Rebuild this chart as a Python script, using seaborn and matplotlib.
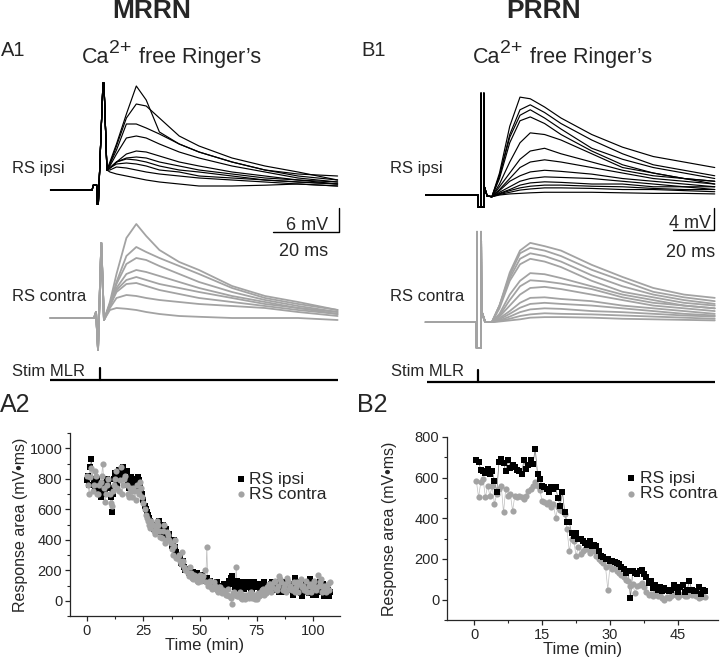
import numpy as np
import pandas as pd
import matplotlib
matplotlib.use("Agg")
import matplotlib.pyplot as plt
import seaborn as sns

# ---------------------------------------------------------------------------
# Данные: записи (мс, мВ) и площадь ответа (мин, мВ·мс)
# ---------------------------------------------------------------------------

# MRRN, A1 — время после стимула (мс)
A_TIME = [3, 5, 8, 11, 14, 18, 24, 30, 40, 50, 60, 72]
A_IPSI_ART_T = [-15, -2.4, -2.0, -1.0, -0.9, -0.5, 0.9, 1.2, 2.1]
A_IPSI_ART_V = [0, 0, 1.25, 1.25, -3.5, -3.5, 26.75, 26.75, 5]
A_IPSI = [
    [7, 11.5, 19, 26, 22.5, 14.5, 11.5, 9.5, 7, 5, 4, 3.5],
    [6.5, 11, 18, 21.5, 21, 18, 13.5, 11, 8, 6, 4.5, 2.5],
    [6.5, 10, 16.5, 16.5, 15.5, 14, 11.5, 9.5, 7, 5, 3.5, 2.5],
    [6, 9, 13, 13.5, 13, 11.5, 9.5, 8, 6, 4.5, 3, 2],
    [5.5, 7, 9, 9.75, 9.5, 8.5, 7, 6, 4.5, 3.5, 2.5, 2],
    [5.5, 7, 8, 8.25, 8, 7, 6, 5, 4, 3, 2.5, 1.5],
    [5.5, 7, 7.75, 7.5, 7, 6, 5, 4.5, 3.5, 2.5, 2, 1.5],
    [5.5, 6.5, 6.75, 6.5, 6, 5, 4.5, 3.5, 3, 2.5, 2, 1.5],
    [5, 5.75, 5.5, 5, 4.5, 4, 3.5, 3, 2.5, 2, 1.5, 1],
    [4.5, 4, 3.5, 3, 2.5, 2, 1.5, 1, 1, 1.2, 1.5, 1],
]
A_CONTRA_ART_T = [-15, -1.8, -1.2, -0.6, 0.4, 1.2]
A_CONTRA_ART_V = [0, 0, 1.5, -8, 18.75, -0.5]
A_CONTRA = [
    [4, 11, 20, 23.5, 20.5, 17, 14, 12, 8, 5.5, 4, 2],
    [3.5, 9, 15.5, 17.75, 16.5, 15, 13, 11, 7.5, 5, 3.5, 2],
    [3.5, 8.5, 13.5, 15, 14.5, 13, 11, 9, 6.5, 4.5, 3, 1.5],
    [3, 7.5, 11, 12, 11.5, 10.5, 9, 7.5, 5.5, 4, 2.5, 1.5],
    [3, 7, 9.5, 10.25, 9.5, 8.5, 7.5, 6.5, 5, 3.5, 2.5, 1],
    [3, 6.5, 8.5, 8.75, 8, 7, 6, 5, 4, 3, 2, 1],
    [2.5, 5, 5.75, 5.5, 5, 4.5, 4, 3.5, 3, 2.5, 1.5, 0.5],
    [2, 2.5, 2.3, 2, 1.5, 1, 0.5, 0.3, 0, 0, 0, -0.5],
]

# PRRN, B1
B_TIME = [10, 15, 20, 25, 32, 40, 55, 70, 85, 100, 115]
B_IPSI_ART_T = [-26, -0.5, -0.45, 1.0, 1.0, 1.05, 2.4, 2.4, 2.6, 4.0, 6.3]
B_IPSI_ART_V = [0, 0, -2.2, -2.2, 18.5, -2.2, -2.2, 18.5, 1.5, -0.2, -0.3]
B_IPSI = [
    [4, 12.5, 17.8, 17.5, 16, 14, 11, 8.7, 7, 6, 5],
    [3.5, 11, 15.5, 16.4, 15, 13, 10, 7.5, 5.5, 4.5, 3.5],
    [3.5, 10.5, 14.5, 15.5, 14, 12, 8.5, 6.5, 5, 4, 3],
    [3, 9.5, 13.5, 14.2, 13, 11, 8, 5.5, 4, 3, 2.5],
    [2, 6, 9.5, 11.3, 11, 10, 7.5, 5, 4, 3, 2.5],
    [1.5, 4, 6.5, 8, 8.5, 7.5, 6, 4.5, 3.5, 3, 2],
    [1, 3, 5, 6, 6.4, 6, 5, 4, 3, 2.5, 2],
    [0.8, 2.5, 3.5, 4.2, 4.5, 4.3, 3.8, 3, 2.5, 2, 1.5],
    [0.5, 1.5, 2.5, 3, 3.3, 3.2, 3, 2.5, 2, 1.5, 1.5],
    [0.3, 1, 1.8, 2.2, 2.4, 2.3, 2, 2, 1.5, 1.5, 1],
    [0.2, 0.8, 1.3, 1.6, 1.8, 1.8, 1.6, 1.5, 1.2, 1, 1],
    [0.1, 0.5, 0.9, 1.1, 1.3, 1.3, 1.2, 1, 1, 0.8, 0.6],
    [0, 0.2, 0.3, 0.4, 0.5, 0.5, 0.5, 0.4, 0.3, 0.3, 0.2],
]
B_CONTRA_ART_T = [-26, -1.2, -1.15, -1.0, -1.0, -0.95, 1.0, 1.0, 1.2, 3.0, 6.3]
B_CONTRA_ART_V = [0, 0, -4.7, -4.7, 16.4, -4.7, -4.7, 16.4, 2, 0, 0]
B_CONTRA = [
    [3, 9, 13, 14.4, 13.8, 13, 10.4, 8.2, 6.2, 5, 4.4],
    [3, 8.5, 12.5, 13.5, 13, 12, 9.5, 7.5, 5.5, 4.5, 3.8],
    [3, 8, 11.5, 12.5, 12, 11, 8.5, 6.5, 5, 4, 3.3],
    [2.5, 7.5, 10.5, 11.5, 11, 10, 7.5, 5.5, 4.5, 3.5, 3],
    [1.5, 5, 7.5, 8.9, 8.7, 8, 6.5, 5, 4, 3, 2.5],
    [1.2, 4, 6.5, 7.6, 7.4, 7, 6, 4.5, 3.5, 3, 2.5],
    [1, 3, 5, 6.2, 6.4, 6, 5, 4, 3, 2.5, 2],
    [0.7, 2, 3.5, 4.4, 4.5, 4.2, 3.8, 3, 2.5, 2, 1.5],
    [0.5, 1.5, 2.6, 3.3, 3.5, 3.3, 3, 2.5, 2, 1.5, 1.2],
    [0.3, 1, 1.8, 2.3, 2.5, 2.4, 2, 1.8, 1.5, 1.2, 1],
    [0.2, 0.6, 1.1, 1.4, 1.6, 1.5, 1.4, 1.2, 1, 0.8, 0.6],
    [0.1, 0.3, 0.5, 0.8, 0.9, 0.9, 0.8, 0.6, 0.5, 0.4, 0.3],
]

# MRRN, A2 — площадь ответа (мВ·мс), целые и половинные минуты
A2_TIME = [
    0, 1, 2, 3, 4, 5, 6, 7, 8, 9, 10, 11, 12, 13, 14, 15, 16, 17, 18, 19,
    20, 21, 22, 23, 24, 25, 26, 27, 28, 29, 30, 31, 32, 33, 34, 35, 36, 37, 38, 39,
    40, 41, 42, 43, 44, 45, 46, 47, 48, 49, 50, 51, 52, 53, 54, 55, 56, 57, 58, 59,
    60, 61, 62, 63, 64, 65, 66, 67, 68, 69, 70, 71, 72, 73, 74, 75, 76, 77, 78, 79,
    80, 81, 82, 83, 84, 85, 86, 87, 88, 89, 90, 91, 92, 93, 94, 95, 96, 97, 98, 99,
    100, 101, 102, 103, 104, 105, 106, 107,
]
A2_TIME_HALF = [
    0.5, 1.5, 2.5, 3.5, 4.5, 5.5, 6.5, 7.5, 8.5, 9.5,
    10.5, 11.5, 12.5, 13.5, 14.5, 15.5, 16.5, 17.5, 18.5, 19.5,
    20.5, 21.5, 22.5, 23.5, 24.5, 25.5, 26.5, 27.5, 28.5, 29.5,
    30.5, 31.5, 32.5, 33.5, 34.5, 35.5, 36.5, 37.5, 38.5, 39.5,
    40.5, 41.5, 42.5, 43.5, 44.5, 45.5, 46.5, 47.5, 48.5, 49.5,
    50.5, 51.5, 52.5, 53.5, 54.5, 55.5, 56.5, 57.5, 58.5, 59.5,
    60.5, 61.5, 62.5, 63.5, 64.5, 65.5, 66.5, 67.5, 68.5, 69.5,
    70.5, 71.5, 72.5, 73.5, 74.5, 75.5, 76.5, 77.5, 78.5, 79.5,
    80.5, 81.5, 82.5, 83.5, 84.5, 85.5, 86.5, 87.5, 88.5, 89.5,
    90.5, 91.5, 92.5, 93.5, 94.5, 95.5, 96.5, 97.5, 98.5, 99.5,
    100.5, 101.5, 102.5, 103.5, 104.5, 105.5, 106.5, 107.5,
]
A2_IPSI = [
    790, 760, 930, 800, 770, 740, 680, 760, 720, 800,
    740, 580, 800, 820, 860, 830, 880, 800, 760, 790,
    760, 800, 780, 790, 720, 660, 600, 560, 520, 480,
    500, 460, 520, 480, 440, 470, 420, 400, 380, 350,
    300, 280, 240, 220, 200, 180, 170, 190, 150, 160,
    140, 170, 130, 150, 120, 110, 100, 90, 80, 100,
    90, 110, 80, 130, 160, 120, 100, 80, 110, 120,
    90, 100, 110, 80, 120, 90, 100, 70, 110, 90,
    100, 80, 120, 90, 110, 60, 100, 80, 120, 90,
    70, 40, 150, 60, 90, 30, 80, 110, 50, 70,
    40, 100, 60, 120, 80, 30, 90, 30,
]
A2_IPSI_HALF = [
    820, 880, 760, 740, 800, 720, 770, 700, 760, 780,
    680, 700, 840, 760, 800, 860, 820, 850, 740, 810,
    780, 740, 810, 760, 700, 620, 580, 540, 500, 470,
    480, 500, 450, 500, 460, 430, 440, 360, 400, 320,
    290, 250, 260, 200, 210, 190, 160, 170, 180, 140,
    160, 150, 140, 120, 130, 100, 110, 120, 90, 80,
    110, 90, 100, 150, 110, 90, 130, 100, 90, 80,
    110, 120, 70, 100, 90, 110, 80, 100, 120, 70,
    90, 110, 70, 100, 80, 120, 60, 100, 80, 110,
    90, 60, 120, 80, 50, 100, 60, 90, 140, 60,
    70, 40, 90, 60, 110, 50, 70, 60,
]
A2_CONTRA = [
    820, 700, 870, 760, 820, 700, 780, 900, 650, 760,
    700, 620, 760, 850, 720, 880, 760, 820, 700, 740,
    680, 720, 760, 700, 740, 640, 560, 520, 480, 500,
    440, 520, 460, 410, 500, 400, 430, 380, 300, 400,
    280, 260, 320, 220, 200, 160, 180, 140, 160, 120,
    170, 140, 200, 355, 110, 90, 120, 80, 60, 90,
    70, 50, 40, 30, -20, 60, 220, 30, 20, 40,
    10, 30, 50, 20, 40, 10, 30, 60, 80, 50,
    70, 110, 90, 130, 70, 160, 120, 90, 60, 130,
    100, 80, 60, 120, 110, 90, 70, 130, 100, 60,
    110, 90, 170, 120, 60, 100, 80, 70,
]
A2_CONTRA_HALF = [
    760, 810, 720, 850, 700, 760, 820, 740, 700, 800,
    640, 720, 800, 740, 790, 700, 800, 760, 680, 720,
    740, 660, 720, 780, 680, 600, 540, 500, 520, 460,
    480, 500, 420, 460, 380, 450, 400, 340, 360, 280,
    300, 240, 260, 200, 180, 220, 150, 170, 130, 150,
    130, 160, 120, 100, 130, 80, 100, 70, 90, 50,
    60, 40, 80, 20, 50, 40, 30, 60, 10, 30,
    40, 20, 60, 30, 10, 50, 40, 70, 40, 90,
    110, 60, 120, 80, 100, 140, 70, 110, 150, 80,
    70, 120, 90, 60, 140, 100, 80, 60, 110, 90,
    130, 70, 100, 140, 90, 60, 110, 120,
]

# PRRN, B2 — каждые 0.5 мин
B2_TIME = [
    0.5, 1.0, 1.5, 2.0, 2.5, 3.0, 3.5, 4.0, 4.5, 5.0,
    5.5, 6.0, 6.5, 7.0, 7.5, 8.0, 8.5, 9.0, 9.5, 10.0,
    10.5, 11.0, 11.5, 12.0, 12.5, 13.0, 13.5, 14.0, 14.5, 15.0,
    15.5, 16.0, 16.5, 17.0, 17.5, 18.0, 18.5, 19.0, 19.5, 20.0,
    20.5, 21.0, 21.5, 22.0, 22.5, 23.0, 23.5, 24.0, 24.5, 25.0,
    25.5, 26.0, 26.5, 27.0, 27.5, 28.0, 28.5, 29.0, 29.5, 30.0,
    30.5, 31.0, 31.5, 32.0, 32.5, 33.0, 33.5, 34.0, 34.5, 35.0,
    35.5, 36.0, 36.5, 37.0, 37.5, 38.0, 38.5, 39.0, 39.5, 40.0,
    40.5, 41.0, 41.5, 42.0, 42.5, 43.0, 43.5, 44.0, 44.5, 45.0,
    45.5, 46.0, 46.5, 47.0, 47.5, 48.0, 48.5, 49.0, 49.5, 50.0,
    50.5, 51.0,
]
B2_IPSI = [
    688, 676, 640, 635, 625, 643, 620, 635, 586, 528,
    676, 690, 670, 635, 685, 650, 660, 652, 640, 635,
    620, 685, 643, 660, 685, 668, 742, 619, 594, 560,
    553, 545, 530, 553, 545, 553, 500, 462, 528, 430,
    380, 380, 330, 313, 330, 300, 297, 290, 280, 270,
    290, 264, 270, 264, 240, 215, 210, 198, 200, 190,
    190, 185, 180, 173, 160, 150, 132, 140, 8, 140,
    130, 124, 140, 148, 124, 110, 83, 90, 58, 70,
    50, 60, 41, 55, 50, 45, 50, 70, 58, 40,
    60, 74, 40, 50, 90, 50, 45, 41, 60, 30,
    50, 45,
]
B2_CONTRA = [
    586, 503, 580, 594, 503, 561, 511, 561, 470, 520,
    545, 561, 429, 545, 511, 520, 437, 511, 505, 511,
    503, 495, 511, 536, 545, 561, 578, 561, 540, 487,
    480, 470, 478, 454, 470, 404, 454, 440, 437, 420,
    346, 239, 300, 289, 215, 260, 223, 240, 250, 248,
    230, 256, 240, 215, 200, 190, 182, 160, 50, 170,
    149, 155, 140, 130, 120, 110, 99, 90, 66, 75,
    33, 66, 70, 83, 60, 40, 25, 30, 20, 35,
    17, 25, 10, 0, 15, 8, 20, 30, 25, 15,
    25, 30, 17, 20, 30, 25, 35, 20, 8, 15,
    17, 12,
]

GRAY = "#a3a3a3"
W, H = 720, 661

sns.set_style("ticks")
plt.rcParams["font.family"] = ["Liberation Sans", "DejaVu Sans"]


def px_axes(fig, x0, y0, x1, y1):
    return fig.add_axes([x0 / W, 1 - y1 / H, (x1 - x0) / W, (y1 - y0) / H])


def fig_text(fig, x, y, s, **kw):
    fig.text(x / W, 1 - y / H, s, **kw)


def traces_frame(art_t, art_v, times, traces, offset):
    parts = []
    for i, vals in enumerate(traces):
        v = np.array(art_v + vals, dtype=float) + offset
        parts.append(pd.DataFrame({"t": art_t + times, "v": v, "trace": i}))
    return pd.concat(parts, ignore_index=True)


def series_frame(t_a, v_a, t_b=None, v_b=None):
    df = pd.DataFrame({"t": t_a, "v": v_a})
    if t_b is not None:
        df = pd.concat([df, pd.DataFrame({"t": t_b, "v": v_b})])
    return df.sort_values("t", ignore_index=True)


def draw_traces(ax, ipsi_df, contra_df, stim, bar):
    sns.lineplot(data=contra_df, x="t", y="v", units="trace", estimator=None,
                 sort=False, color=GRAY, linewidth=1.3, ax=ax, legend=False)
    sns.lineplot(data=ipsi_df, x="t", y="v", units="trace", estimator=None,
                 sort=False, color="black", linewidth=0.85, ax=ax, legend=False)
    # линия стимуляции MLR
    t0, t1, y_line, t_tick, y_tick = stim
    ax.plot([t0, t1], [y_line, y_line], color="black", lw=1.6, solid_capstyle="butt")
    ax.plot([t_tick, t_tick], [y_line, y_tick], color="black", lw=1.6)
    # шкала
    bx, by0, by1, bw, mv_label, mv_xy, ms_xy = bar
    ax.plot([bx - bw, bx, bx], [by1, by1, by0], color="black", lw=1.0)
    ax.text(*mv_xy, mv_label, ha="right", va="baseline", fontsize=13)
    ax.text(*ms_xy, "20 ms", ha="center", va="center", fontsize=13)
    ax.set_axis_off()


fig = plt.figure(figsize=(7.2, 6.61), dpi=100)

# ---------------------------------------------------------------------------
# A1 (MRRN)
# ---------------------------------------------------------------------------
ax_a1 = px_axes(fig, 40, 65, 345, 390)
draw_traces(
    ax_a1,
    traces_frame(A_IPSI_ART_T, A_IPSI_ART_V, A_TIME, A_IPSI, 0),
    traces_frame(A_CONTRA_ART_T, A_CONTRA_ART_V, A_TIME, A_CONTRA, -32),
    stim=(-15.15, 72.1, -47.5, 0.0, -44.5),
    bar=(72.4, -4.5, -10.5, 20, "6 mV", (69.0, -9.9), (61.8, -15.5)),
)
ax_a1.set_xlim(-18.18, 74.24)
ax_a1.set_ylim(-50, 31.25)

# ---------------------------------------------------------------------------
# B1 (PRRN)
# ---------------------------------------------------------------------------
ax_b1 = px_axes(fig, 420, 65, 720, 390)
draw_traces(
    ax_b1,
    traces_frame(B_IPSI_ART_T, B_IPSI_ART_V, B_TIME, B_IPSI, 0),
    traces_frame(B_CONTRA_ART_T, B_CONTRA_ART_V, B_TIME, B_CONTRA, -23.1),
    stim=(-25.4, 115.1, -34.0, -0.5, -31.8),
    bar=(114.6, -2.36, -6.36, 20, "4 mV", (113.0, -6.0), (103.4, -10.4)),
)
ax_b1.set_xlim(-28.78, 117.56)
ax_b1.set_ylim(-35.45, 23.64)

# ---------------------------------------------------------------------------
# A2 / B2 — площадь ответа
# ---------------------------------------------------------------------------

def response_panel(ax, ipsi_df, contra_df, ipsi_on_top):
    order = [("ipsi", ipsi_df), ("contra", contra_df)]
    if ipsi_on_top:
        order = order[::-1]
    for name, df in order:
        if name == "ipsi":
            sns.lineplot(data=df, x="t", y="v", color="#6e6e6e", linewidth=0.5, ax=ax)
            sns.scatterplot(data=df, x="t", y="v", marker="s", color="black", s=13,
                            linewidth=0, ax=ax, label="RS ipsi", zorder=3)
        else:
            sns.lineplot(data=df, x="t", y="v", color="#bdbdbd", linewidth=0.5, ax=ax)
            sns.scatterplot(data=df, x="t", y="v", marker="o", color=GRAY, s=20,
                            linewidth=0, ax=ax, label="RS contra", zorder=3)
    h, l = ax.get_legend_handles_labels()
    by_label = dict(zip(l, h))
    return [by_label["RS ipsi"], by_label["RS contra"]]


def style_panel(ax, xlim, ylim, xmaj, xmin, ymaj, ymin, handles, leg_xy, ylab_x):
    ax.set_xlim(*xlim)
    ax.set_ylim(*ylim)
    ax.set_xticks(xmaj)
    ax.set_xticks(xmin, minor=True)
    ax.set_yticks(ymaj)
    ax.set_yticks(ymin, minor=True)
    sns.despine(ax=ax)
    for s in ("left", "bottom"):
        ax.spines[s].set_linewidth(0.9)
    ax.tick_params(which="major", direction="out", length=3.5, width=0.9,
                   labelsize=10.5, pad=2)
    ax.tick_params(which="minor", direction="out", length=2, width=0.8)
    ax.set_xlabel("Time (min)", fontsize=12, labelpad=0)
    ax.set_ylabel("Response area (mV\u2022ms)", fontsize=11.5)
    ax.yaxis.set_label_coords(ylab_x, 0.5)
    ax.legend(handles, ["RS ipsi", "RS contra"], loc="upper left",
              bbox_to_anchor=leg_xy, frameon=False, fontsize=12.5,
              handletextpad=0.0, borderpad=0, borderaxespad=0,
              labelspacing=0.0, handlelength=1.0)


ax_a2 = px_axes(fig, 70, 433, 340, 616)
h_a2 = response_panel(
    ax_a2,
    series_frame(A2_TIME, A2_IPSI, A2_TIME_HALF, A2_IPSI_HALF),
    series_frame(A2_TIME, A2_CONTRA, A2_TIME_HALF, A2_CONTRA_HALF),
    ipsi_on_top=False,
)
style_panel(ax_a2, (-7.5, 111.9), (-100, 1100),
            [0, 25, 50, 75, 100], [12.5, 37.5, 62.5, 87.5],
            [0, 200, 400, 600, 800, 1000], [-100, 100, 300, 500, 700, 900, 1100],
            h_a2, (0.6, 0.79), -0.155)

ax_b2 = px_axes(fig, 447, 437, 718, 620)
h_b2 = response_panel(
    ax_b2,
    series_frame(B2_TIME, B2_IPSI),
    series_frame(B2_TIME, B2_CONTRA),
    ipsi_on_top=True,
)
style_panel(ax_b2, (-5.96, 53.8), (-100, 800),
            [0, 15, 30, 45], [7.5, 22.5, 37.5],
            [0, 200, 400, 600, 800], [-100, 100, 300, 500, 700],
            h_b2, (0.648, 0.815), -0.185)

# ---------------------------------------------------------------------------
# Подписи
# ---------------------------------------------------------------------------
fig_text(fig, 152, 11, "MRRN", fontsize=19, fontweight="bold", ha="center", va="center")
fig_text(fig, 544, 11, "PRRN", fontsize=19, fontweight="bold", ha="center", va="center")
fig_text(fig, 1, 50, "A1", fontsize=14.5, ha="left", va="center")
fig_text(fig, 361, 50, "B1", fontsize=14.5, ha="left", va="center")
fig_text(fig, 0, 405, "A2", fontsize=18, ha="left", va="center")
fig_text(fig, 357, 405, "B2", fontsize=18, ha="left", va="center")
for x_ca in (82, 473):
    fig_text(fig, x_ca, 63, "Ca", fontsize=15.5, ha="left", va="baseline")
    fig_text(fig, x_ca + 27, 53, "2+", fontsize=14, ha="left", va="baseline")
    fig_text(fig, x_ca + 57, 63, "free Ringer\u2019s", fontsize=15.5,
             ha="left", va="baseline")
for x0, y0, s in [(12, 168, "RS ipsi"), (390, 168, "RS ipsi"),
                  (12, 297, "RS contra"), (390, 297, "RS contra"),
                  (12, 371, "Stim MLR"), (391, 371, "Stim MLR")]:
    fig_text(fig, x0, y0, s, fontsize=12, ha="left", va="center")

fig.savefig("out.png", dpi=100)
